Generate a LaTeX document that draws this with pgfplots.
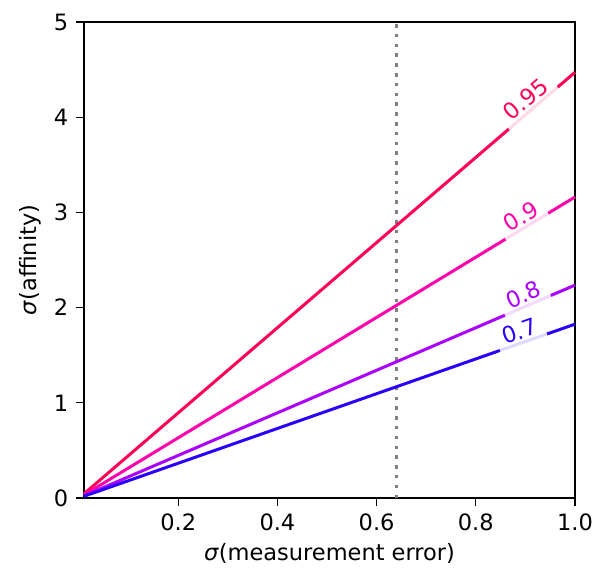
\documentclass[border=0pt]{standalone}
\usepackage{fontspec}
\setmainfont{DejaVu Sans}
\usepackage{pgfplots}
\pgfplotsset{compat=1.18}
\usetikzlibrary{calc}
\definecolor{c95}{HTML}{FF0055}
\definecolor{c90}{HTML}{FF00AA}
\definecolor{c80}{HTML}{AA00FF}
\definecolor{c70}{HTML}{2B00FF}
\begin{document}
\fontsize{22.5}{26}\selectfont
\begin{tikzpicture}
\tikzset{lbl/.style={sloped, anchor=base, yshift=3.5pt, fill=white, fill opacity=0.85, text opacity=1, inner xsep=7pt, inner ysep=6pt, text=#1, font=\fontsize{22.5}{26}\selectfont}}
\begin{axis}[
  scale only axis,
  width=491pt, height=476pt,
  xmin=0.01, xmax=1.0, ymin=0, ymax=5,
  xtick={0.2,0.4,0.6,0.8,1.0},
  ytick={0,1,2,3,4,5},
  xtick pos=bottom, ytick pos=left,
  xticklabel style={/pgf/number format/.cd,fixed,fixed zerofill,precision=1},
  /pgf/number format/assume math mode=true,
  tick align=outside,
  major tick length=8pt,
  tick style={black, line width=1.2pt},
  axis line style={line width=1.2pt},
  tick label style={font=\fontsize{22.5}{26}\selectfont},
  label style={font=\fontsize{22.5}{26}\selectfont},
  xlabel={\textit{σ}(measurement error)},
  ylabel={\textit{σ}(affinity)},
  ylabel style={yshift=-2pt},
  xlabel style={yshift=2pt},
  clip=false,
]
\addplot[gray, line width=3.5pt, dash pattern=on 3.5pt off 6.3pt] coordinates {(0.64,0) (0.64,5)};
\addplot[c95, line width=3pt] coordinates {(0.01,0.0447) (1.0,4.472)}
  node[pos=0.915, lbl=c95] {0.95};
\addplot[c90, line width=3pt] coordinates {(0.01,0.0316) (1.0,3.162)}
  node[pos=0.902, lbl=c90] {0.9};
\addplot[c80, line width=3pt] coordinates {(0.01,0.0224) (1.0,2.236)}
  node[pos=0.904, lbl=c80] {0.8};
\addplot[c70, line width=3pt] coordinates {(0.01,0.0183) (1.0,1.826)}
  node[pos=0.895, lbl=c70] {0.7};
\end{axis}
\pgfresetboundingbox
\path[use as bounding box] ($(current axis.south west)+(-84pt,-75pt)$) rectangle ($(current axis.north east)+(21pt,22pt)$);
\end{tikzpicture}
\end{document}
